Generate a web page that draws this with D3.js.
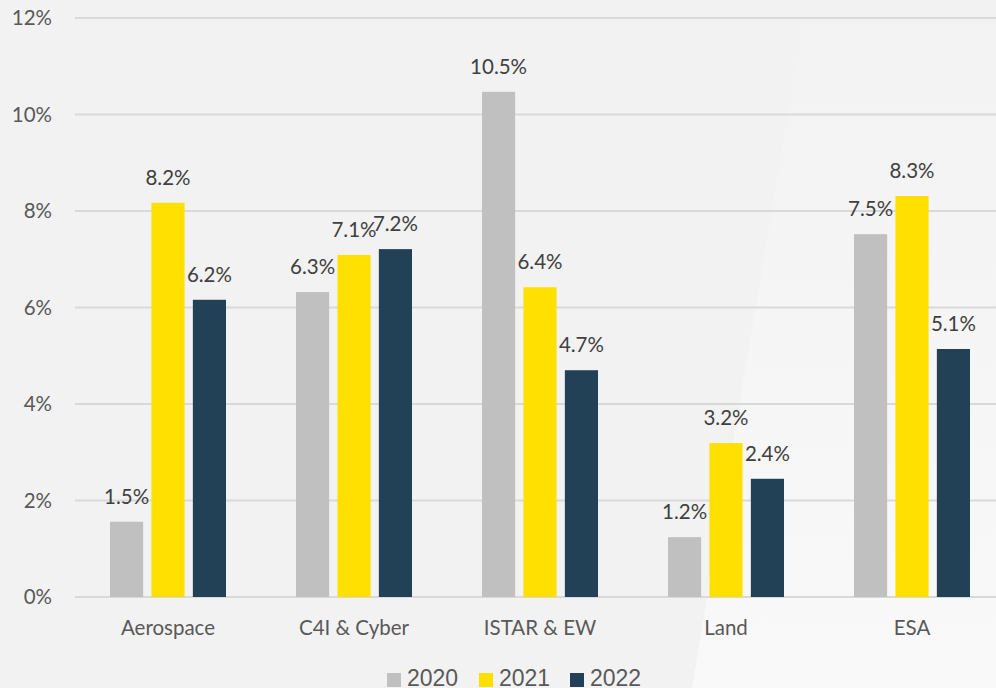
<!DOCTYPE html>
<html>
<head>
<meta charset="utf-8">
<script src="https://cdn.jsdelivr.net/npm/d3@7"></script>
<style>
  body { margin: 0; background: #f2f2f2; }
  svg { display: block; }
</style>
</head>
<body>
<div id="chart"></div>
<script>
const w = 996;
const h = 688;

const categories = ["Aerospace", "C4I & Cyber", "ISTAR & EW", "Land", "ESA"];
const years = ["2020", "2021", "2022"];
const colors = ["#c0c0c0", "#ffe000", "#234156"];
// values (percent)
const v2020 = [1.56, 6.32, 10.47, 1.24, 7.52];
const v2021 = [8.17, 7.09, 6.42, 3.19, 8.31];
const v2022 = [6.16, 7.21, 4.70, 2.45, 5.14];
const labels2020 = ["1.5%", "6.3%", "10.5%", "1.2%", "7.5%"];
const labels2021 = ["8.2%", "7.1%", "6.4%", "3.2%", "8.3%"];
const labels2022 = ["6.2%", "7.2%", "4.7%", "2.4%", "5.1%"];
const yTicks = [0, 2, 4, 6, 8, 10, 12];

const series = [v2020, v2021, v2022];
const seriesLabels = [labels2020, labels2021, labels2022];
const font = "Lato, 'Open Sans', sans-serif";

let svg = d3
  .select("#chart")
  .append("svg")
  .attr("width", w)
  .attr("height", h);

// light wedge in the lower right of the background
let defs = svg.append("defs");
let grad = defs
  .append("linearGradient")
  .attr("id", "wedge")
  .attr("x1", 0).attr("y1", 0).attr("x2", 0).attr("y2", 1);
grad.append("stop").attr("offset", "0%").attr("stop-color", "#f2f2f2");
grad.append("stop").attr("offset", "100%").attr("stop-color", "#f9f9f9");
svg
  .append("path")
  .attr("d", "M807,0 L996,0 L996,688 L692,688 Z")
  .attr("fill", "url(#wedge)");

let y = d3.scaleLinear().domain([0, 12]).range([597, 18]);
let x = d3.scaleBand().domain(categories).range([75, 1005]);
let xs = d3
  .scaleBand()
  .domain(years)
  .range([0, 116])
  .paddingInner(0.2);

// gridlines
svg
  .selectAll("line.grid")
  .data(yTicks)
  .enter()
  .append("line")
  .attr("class", "grid")
  .attr("x1", 75)
  .attr("x2", w)
  .attr("y1", d => y(d))
  .attr("y2", d => y(d))
  .attr("stroke", "#d9d9d9")
  .attr("stroke-width", 2);

// y labels
svg
  .selectAll("text.ytick")
  .data(yTicks)
  .enter()
  .append("text")
  .attr("class", "ytick")
  .attr("x", 52)
  .attr("y", d => y(d))
  .attr("dy", "0.35em")
  .attr("text-anchor", "end")
  .attr("font-family", font)
  .attr("font-size", 20.5)
  .attr("fill", "#595959")
  .text(d => d + "%");

let groups = svg
  .selectAll("g.cat")
  .data(categories)
  .enter()
  .append("g")
  .attr("class", "cat")
  .attr("transform", d => `translate(${x(d) + x.bandwidth() / 2 - 58},0)`);

groups.each(function (cat, ci) {
  let g = d3.select(this);
  years.forEach((yr, si) => {
    let val = series[si][ci];
    g.append("rect")
      .attr("x", xs(yr))
      .attr("y", y(val))
      .attr("width", xs.bandwidth())
      .attr("height", y(0) - y(val))
      .attr("fill", colors[si]);
    g.append("text")
      .attr("x", xs(yr) + xs.bandwidth() / 2)
      .attr("y", y(val) - 18)
      .attr("text-anchor", "middle")
      .attr("font-family", font)
      .attr("font-size", 20.5)
      .attr("fill", "#404040")
      .text(seriesLabels[si][ci]);
  });
});

// category labels
svg
  .selectAll("text.cat")
  .data(categories)
  .enter()
  .append("text")
  .attr("class", "cat")
  .attr("x", d => x(d) + x.bandwidth() / 2)
  .attr("y", 635)
  .attr("text-anchor", "middle")
  .attr("font-family", font)
  .attr("font-size", 20.5)
  .attr("fill", "#595959")
  .text(d => d);

// legend
let legendX = [387, 479, 570];
let legend = svg
  .selectAll("g.legend")
  .data(years)
  .enter()
  .append("g")
  .attr("class", "legend")
  .attr("transform", (d, i) => `translate(${legendX[i]},673)`);
legend
  .append("rect")
  .attr("width", 14)
  .attr("height", 14)
  .attr("fill", (d, i) => colors[i]);
legend
  .append("text")
  .attr("x", 20)
  .attr("y", 13)
  .attr("font-family", "'Liberation Sans', Arial, sans-serif")
  .attr("font-size", 23)
  .attr("fill", "#595959")
  .text(d => d);
</script>
</body>
</html>
